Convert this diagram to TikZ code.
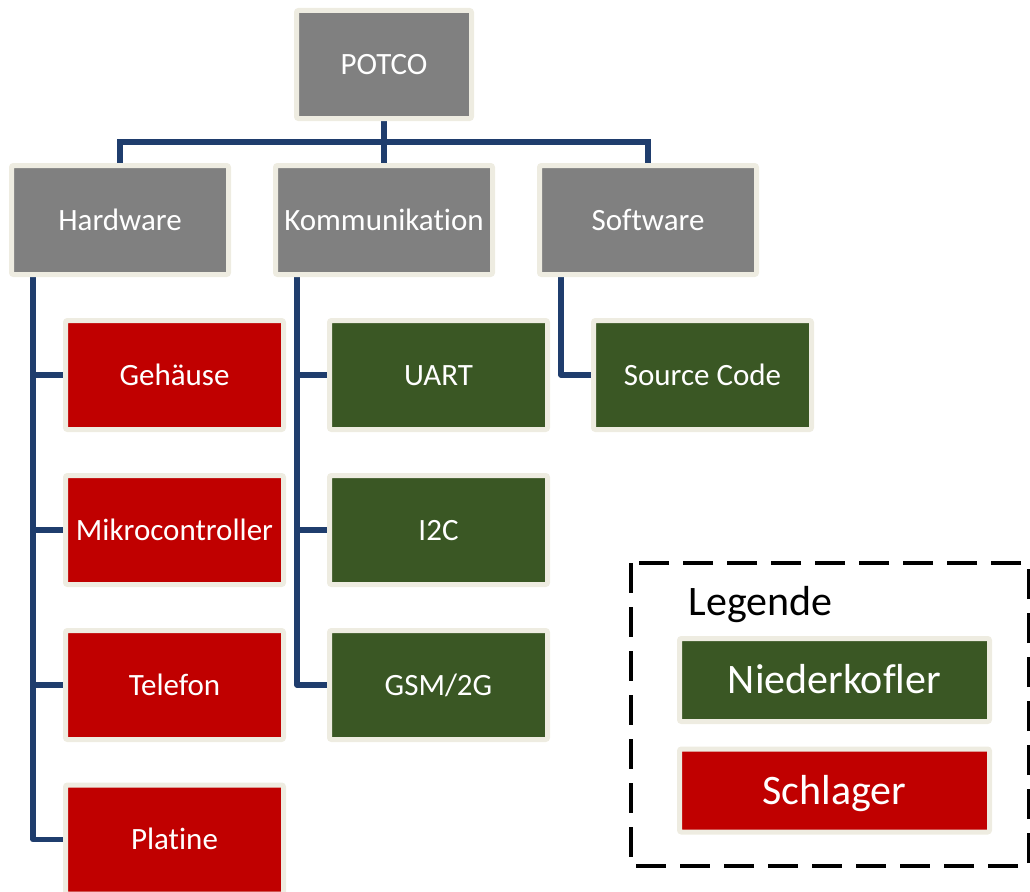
\documentclass[tikz,border=0pt]{standalone}
\usepackage{fontspec}
\setmainfont{Carlito}[Ligatures={NoCommon}]
\usetikzlibrary{backgrounds}
\definecolor{boxgray}{HTML}{808080}
\definecolor{boxred}{HTML}{C00000}
\definecolor{boxgreen}{HTML}{3A5724}
\definecolor{cream}{HTML}{EEECE1}
\definecolor{navy}{HTML}{1F3D6D}
\tikzset{
  orgbox/.style={draw=cream, line width=5pt, rounded corners=2pt, text=white,
    inner sep=0pt, align=center, font=\fontsize{31}{37}\selectfont,
    text height=20pt, text depth=0pt},
  topbox/.style={orgbox, fill=boxgray, minimum width=217pt, minimum height=109pt},
  redbox/.style={orgbox, fill=boxred, minimum width=218pt, minimum height=109pt},
  greenbox/.style={orgbox, fill=boxgreen, minimum width=218pt, minimum height=109pt},
  legbox/.style={orgbox, minimum width=310pt, minimum height=83pt,
    font=\fontsize{42}{50}\selectfont, text height=27pt},
  conn/.style={draw=navy, line width=5.5pt}
}
\begin{document}
\begin{tikzpicture}[x=1pt,y=-1pt]
\useasboundingbox (0,0) rectangle (1030,891);
% top
\node[topbox, minimum width=175pt, minimum height=108pt] (potco) at (384,64.5) {POTCO};
\node[topbox] (hw) at (120,220) {Hardware};
\node[topbox] (kom) at (384,220) {Kommunikation};
\node[topbox] (sw) at (648,220) {Software};
% hardware children
\node[redbox] (geh) at (174.5,375) {Gehäuse};
\node[redbox] (mik) at (174.5,530) {Mikrocontroller};
\node[redbox] (tel) at (174.5,685) {Telefon};
\node[redbox] (pla) at (174.5,839.5) {Platine};
% kommunikation children
\node[greenbox] (uart) at (438.5,375) {UART};
\node[greenbox] (i2c) at (438.5,530) {I2C};
\node[greenbox] (gsm) at (438.5,685) {GSM/2G};
% software child
\node[greenbox] (src) at (702.5,375) {Source Code};
% legend
\draw[black, line width=3.5pt, dash pattern=on 30pt off 14pt] (631,563) rectangle (1029,866);
\node[anchor=base west, font=\fontsize{42}{50}\selectfont] (legtitle) at (685,615) {Legende};
\node[legbox, fill=boxgreen] (legn) at (834.5,680) {Niederkofler};
\node[legbox, fill=boxred] (legs) at (834.5,790.5) {Schlager};
% connectors
\coordinate (bus) at (384,142);
\coordinate (hwl) at (33,275);
\coordinate (koml) at (297,275);
\coordinate (swl) at (561,275);
\begin{pgfonlayer}{background}
\draw[conn] (potco.south) -- (kom.north);
\draw[conn] (hw.north) |- (bus) -| (sw.north);
\draw[conn, line join=round] (hwl) |- (pla.west);
\draw[conn] (geh.west) -- (geh.west -| hwl);
\draw[conn] (mik.west) -- (mik.west -| hwl);
\draw[conn] (tel.west) -- (tel.west -| hwl);
\draw[conn, line join=round] (koml) |- (gsm.west);
\draw[conn] (uart.west) -- (uart.west -| koml);
\draw[conn] (i2c.west) -- (i2c.west -| koml);
\draw[conn, line join=round] (swl) |- (src.west);
\end{pgfonlayer}
\end{tikzpicture}
\end{document}
